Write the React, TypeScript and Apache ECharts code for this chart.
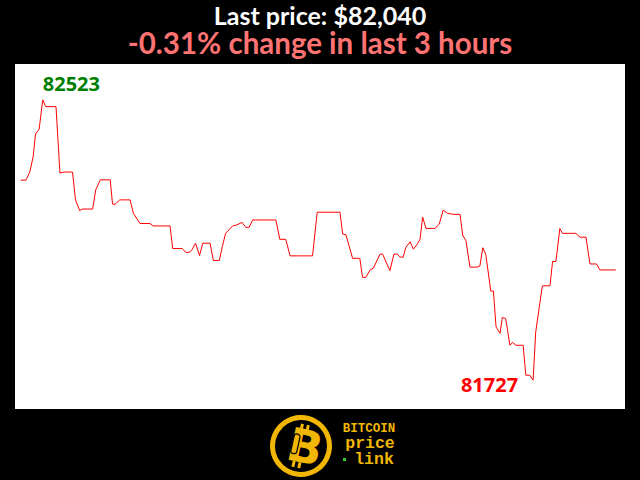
import React, { useEffect, useRef } from "react";
import * as echarts from "echarts";

// minutes since start of the 3-hour window
const minutes = [
  0, 1.6, 2.8, 3.8, 4.5, 5.6, 6.7, 7.6, 10.7, 11.9, 13.1, 15.7, 16.6, 17.9, 18.6, 21.8,
  22.7, 24.1, 27.1, 27.8, 28.5, 30.0, 33.1, 34.1, 36.1, 39.1, 40.1, 45.2, 46.0, 48.9,
  49.9, 50.9, 51.7, 52.9, 54.1, 55.1, 57.3, 58.3, 60.1, 61.0, 62.0, 64.1, 65.1, 67.0,
  68.1, 69.1, 70.2, 77.2, 78.4, 80.2, 81.5, 88.3, 89.7, 96.6, 97.4, 98.4, 100.4, 102.6,
  103.4, 104.4, 105.7, 106.7, 108.7, 109.5, 110.7, 111.7, 112.9, 113.9, 114.7, 115.7,
  116.5, 117.8, 118.8, 120.0, 120.8, 121.6, 122.6, 125.3, 126.6, 127.8, 129.1, 130.8,
  132.9, 133.7, 134.7, 135.9, 138.1, 138.9, 139.8, 140.7, 142.2, 143.0, 143.8, 145.0,
  145.7, 146.7, 148.0, 148.8, 149.8, 152.0, 152.8, 154.0, 155.0, 155.8, 157.8, 160.1,
  160.9, 161.9, 163.1, 163.9, 167.9, 169.2, 171.0, 172.2, 174.2, 175.2, 180.0,
];

const prices = [
  82295, 82295, 82319, 82362, 82426, 82440, 82523, 82504, 82504, 82315, 82318, 82318, 82239, 82208, 82213, 82213,
  82267, 82296, 82296, 82227, 82226, 82239, 82239, 82201, 82172, 82172, 82165, 82165, 82101, 82101,
  82090, 82090, 82095, 82116, 82081, 82116, 82116, 82067, 82067, 82106, 82144, 82165, 82167, 82175,
  82161, 82161, 82182, 82182, 82127, 82127, 82080, 82080, 82204, 82204, 82142, 82140, 82073, 82073,
  82019, 82019, 82040, 82045, 82085, 82085, 82059, 82038, 82085, 82085, 82077, 82076,
  82104, 82120, 82099, 82114, 82127, 82190, 82158, 82158, 82170, 82210, 82201, 82198,
  82198, 82139, 82123, 82048, 82048, 82051, 82103, 82084, 81980, 81980, 81878, 81860,
  81905, 81902, 81826, 81834, 81826, 81826, 81741, 81741, 81727, 81864, 81995, 81995,
  82064, 82064, 82158, 82144, 82144, 82133, 82133, 82057, 82057, 82040, 82040,
];

const windowHours = 3;
const logoLines = ["BITCOIN", "price", "link"];

export default function App() {
  const ref = useRef<HTMLDivElement>(null);
  useEffect(() => {
    const chart = echarts.init(ref.current!, null, { renderer: "svg" });
    const data = minutes.map((m, i) => [m, prices[i]]);
    const first = prices[0];
    const last = prices[prices.length - 1];
    const change = (((last - first) / first) * 100).toFixed(2);
    const gold = "#f2b705";
    const rot = -0.22;
    chart.setOption({
      animation: false,
      backgroundColor: "#000",
      title: [
        {
          text: "Last price: $" + last.toLocaleString("en-US"),
          left: "center",
          top: 2.5,
          padding: 0,
          textStyle: {
            color: "#fff",
            fontSize: 25,
            lineHeight: 24,
            fontWeight: "bold",
            fontFamily: "Lato",
          },
        },
        {
          text: `${change}% change in last ${windowHours} hours`,
          left: "center",
          top: 28,
          padding: 0,
          textStyle: {
            color: "#ff7373",
            fontSize: 29.5,
            lineHeight: 28,
            fontWeight: "bold",
            fontFamily: "Lato",
          },
        },
      ],
      grid: {
        left: 15,
        right: 15,
        top: 64,
        bottom: 71,
        show: true,
        backgroundColor: "#fff",
        borderWidth: 0,
      },
      xAxis: { type: "value", min: -1.7, max: 182.8, show: false },
      yAxis: { type: "value", min: 81645, max: 82625, show: false, scale: true },
      series: [
        {
          type: "line",
          data,
          showSymbol: false,
          symbol: "none",
          lineStyle: { color: "#ff0000", width: 1 },
          markPoint: {
            symbol: "circle",
            symbolSize: 0,
            data: [
              {
                type: "max",
                label: {
                  show: true,
                  position: "inside",
                  align: "left",
                  verticalAlign: "middle",
                  offset: [0, -16],
                  color: "#008000",
                  fontSize: 20,
                  fontWeight: "bold",
                  fontFamily: "Open Sans",
                  formatter: (p: any) => String(p.value),
                },
              },
              {
                type: "min",
                label: {
                  show: true,
                  position: "inside",
                  align: "right",
                  verticalAlign: "middle",
                  offset: [-15, 4],
                  color: "#ff0000",
                  fontSize: 20,
                  fontWeight: "bold",
                  fontFamily: "Open Sans",
                  formatter: (p: any) => String(p.value),
                },
              },
            ],
          },
        },
      ],
      graphic: [
        {
          type: "circle",
          shape: { cx: 301, cy: 446, r: 28.5 },
          style: { fill: "#000", stroke: gold, lineWidth: 5 },
        },
        {
          type: "group",
          x: 305,
          y: 447,
          rotation: rot,
          children: [
            { type: "rect", shape: { x: -9, y: -22, width: 3, height: 6 }, style: { fill: gold } },
            { type: "rect", shape: { x: -3, y: -22, width: 3, height: 6 }, style: { fill: gold } },
            { type: "rect", shape: { x: -9, y: 16, width: 3, height: 6 }, style: { fill: gold } },
            { type: "rect", shape: { x: -3, y: 16, width: 3, height: 6 }, style: { fill: gold } },
            {
              type: "text",
              x: 0,
              y: 0,
              style: {
                text: "B",
                fill: gold,
                font: 'bold 46px "DejaVu Sans"',
                textAlign: "center",
                textVerticalAlign: "middle",
              },
            },
            {
              type: "rect",
              shape: { x: -13, y: -11, width: 6, height: 20, r: 3 },
              style: { fill: "none", stroke: "#000", lineWidth: 1.2 },
            },
          ],
        },
        {
          type: "text",
          x: 369,
          y: 428.5,
          style: {
            text: logoLines[0],
            fill: gold,
            font: 'bold 12.5px "Liberation Mono"',
            lineHeight: 12,
            textAlign: "center",
            textVerticalAlign: "middle",
          },
        },
        {
          type: "text",
          x: 370,
          y: 443,
          style: {
            text: logoLines[1],
            fill: gold,
            font: 'bold 16.5px "Liberation Mono"',
            lineHeight: 13,
            textAlign: "center",
            textVerticalAlign: "middle",
          },
        },
        {
          type: "text",
          x: 374,
          y: 459.5,
          style: {
            text: logoLines[2],
            fill: gold,
            font: 'bold 16.5px "Liberation Mono"',
            lineHeight: 13,
            textAlign: "center",
            textVerticalAlign: "middle",
          },
        },
        {
          type: "rect",
          shape: { x: 343, y: 458, width: 3, height: 3 },
          style: { fill: "#33cc33" },
        },
      ],
    });
    return () => chart.dispose();
  }, []);
  return (
    <div
      ref={ref}
      style={{ position: "fixed", left: 0, top: 0, width: 640, height: 480 }}
    />
  );
}
